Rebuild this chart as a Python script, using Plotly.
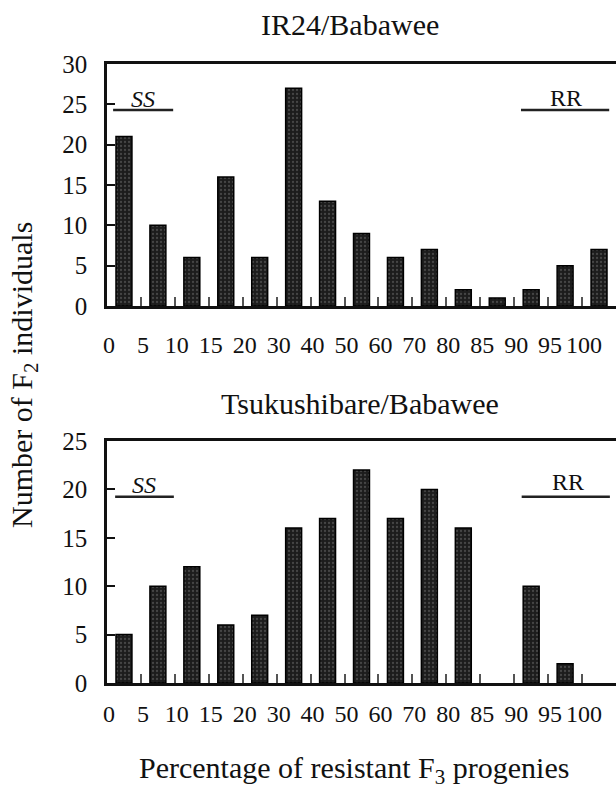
import plotly.graph_objects as go

# ---- data ----
categories = ["0", "5", "10", "15", "20", "30", "40", "50", "60", "70", "80", "85", "90", "95", "100"]
ir24_counts = [21, 10, 6, 16, 6, 27, 13, 9, 6, 7, 2, 1, 2, 5, 7]
tsuku_counts = [5, 10, 12, 6, 7, 16, 17, 22, 17, 20, 16, 0, 10, 2, 0]
top_title = "IR24/Babawee"
bottom_title = "Tsukushibare/Babawee"
top_yticks = [0, 5, 10, 15, 20, 25, 30]
bottom_yticks = [0, 5, 10, 15, 20, 25]

W, H = 616, 798
FONT = "Liberation Serif, Times New Roman, serif"
INK = "#111111"


def py(p):
    """pixel y -> paper y"""
    return 1 - p / H


def px(p):
    return p / W


def bar_marker(values):
    return dict(
        color="#1c1c1c",
        line=dict(color="black", width=[1.5 if v > 0 else 0 for v in values]),
        pattern=dict(shape=".", fgcolor="#707070", bgcolor="#1c1c1c", size=4, solidity=0.25),
    )


fig = go.Figure()
fig.add_trace(go.Bar(x=categories, y=ir24_counts, width=0.47, marker=bar_marker(ir24_counts),
                     xaxis="x", yaxis="y", showlegend=False))
fig.add_trace(go.Bar(x=categories, y=tsuku_counts, width=0.47, marker=bar_marker(tsuku_counts),
                     xaxis="x2", yaxis="y2", showlegend=False))

xcommon = dict(
    type="category",
    range=[-0.5, 14.5],
    automargin=False,
    showline=True, linecolor=INK, linewidth=2.5, mirror=True,
    ticks="inside", tickson="boundaries", ticklen=9, tickwidth=1.5, tickcolor="#555555",
    showgrid=False, zeroline=False,
    tickangle=0,
    tickfont=dict(family=FONT, size=24, color=INK),
    ticklabelshift=-15,
    fixedrange=True,
)
ycommon = dict(
    automargin=False,
    showline=True, linecolor=INK, linewidth=2.5,
    ticks="inside", ticklen=8, tickwidth=1.5, tickcolor=INK,
    showgrid=False, zeroline=False,
    tickfont=dict(family=FONT, size=25, color=INK),
    ticklabelstandoff=12,
)

fig.update_layout(
    width=W, height=H,
    autosize=False,
    margin=dict(l=0, r=0, t=0, b=0, pad=0),
    paper_bgcolor="white", plot_bgcolor="white",
    xaxis=dict(xcommon, domain=[px(107), 1.0], anchor="y", ticklabelstandoff=15),
    yaxis=dict(ycommon, domain=[py(306), py(64)], range=[0, 30], tickvals=top_yticks, anchor="x"),
    xaxis2=dict(xcommon, domain=[px(107), 1.0], anchor="y2", ticklabelstandoff=7),
    yaxis2=dict(ycommon, domain=[py(683), py(441)], range=[0, 25], tickvals=bottom_yticks, anchor="x2"),
)

shapes = []
annotations = []

# genotype class markers (SS / RR) for each panel
markers = [
    # (xref, yref, x0, x1, y_line, label, x_text, y_text)
    ("x", "y", -0.32, 1.45, 24.3, "<i>SS</i>", 0.56, 25.6),
    ("x", "y", 11.70, 14.30, 24.3, "RR", 13.03, 25.8),
    ("x2", "y2", -0.26, 1.47, 19.25, "<i>SS</i>", 0.59, 20.5),
    ("x2", "y2", 11.72, 14.32, 19.25, "RR", 13.09, 20.76),
]
for xr, yr, x0, x1, yl, lab, xt, yt in markers:
    shapes.append(dict(type="line", xref=xr, yref=yr, x0=x0, x1=x1, y0=yl, y1=yl,
                       line=dict(color="#222222", width=2.5)))
    annotations.append(dict(xref=xr, yref=yr, x=xt, y=yt, text=lab, showarrow=False,
                            xanchor="center", yanchor="middle",
                            font=dict(family=FONT, size=24, color=INK)))

# panel titles
annotations.append(dict(xref="paper", yref="paper", x=px(350), y=py(25), text=top_title,
                        showarrow=False, xanchor="center", yanchor="middle",
                        font=dict(family=FONT, size=30, color=INK)))
annotations.append(dict(xref="paper", yref="paper", x=px(360), y=py(403), text=bottom_title,
                        showarrow=False, xanchor="center", yanchor="middle",
                        font=dict(family=FONT, size=30, color=INK)))
# shared axis titles
annotations.append(dict(xref="paper", yref="paper", x=px(354), y=py(770),
                        text="Percentage of resistant F<sub>3</sub> progenies",
                        showarrow=False, xanchor="center", yanchor="middle",
                        font=dict(family=FONT, size=30, color=INK)))
annotations.append(dict(xref="paper", yref="paper", x=px(24), y=py(375),
                        text="Number of F<sub>2</sub> individuals", textangle=-90,
                        showarrow=False, xanchor="center", yanchor="middle",
                        font=dict(family=FONT, size=30, color=INK)))

fig.update_layout(shapes=shapes, annotations=annotations)

fig.write_html(
    "out.html",
    config={"displayModeBar": False},
    post_script="document.body.style.margin='0';document.body.style.overflow='hidden';",
)
